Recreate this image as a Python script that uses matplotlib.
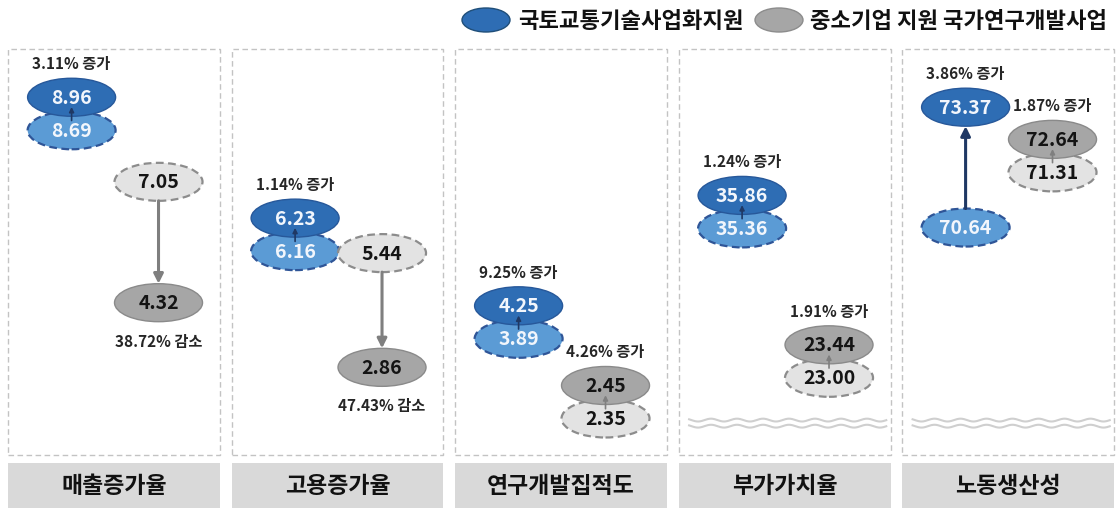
import numpy as np
import matplotlib.pyplot as plt
from matplotlib.patches import Ellipse, Rectangle, FancyArrowPatch
from matplotlib.transforms import IdentityTransform

plt.rcParams['font.family'] = ['Noto Sans CJK KR', 'DejaVu Sans']

categories = ['매출증가율', '고용증가율', '연구개발집적도', '부가가치율', '노동생산성']
series_names = ['국토교통기술사업화지원', '중소기업 지원 국가연구개발사업']

# before -> after values for each indicator
molit_before = [8.69, 6.16, 3.89, 35.36, 70.64]
molit_after = [8.96, 6.23, 4.25, 35.86, 73.37]
sme_before = [7.05, 5.44, 2.35, 23.00, 71.31]
sme_after = [4.32, 2.86, 2.45, 23.44, 72.64]

molit_notes = ['3.11% 증가', '1.14% 증가', '9.25% 증가', '1.24% 증가', '3.86% 증가']
sme_notes = ['38.72% 감소', '47.43% 감소', '4.26% 증가', '1.91% 증가', '1.87% 증가']

# value range shown in each panel (last two use a broken axis)
y_ranges = [(0.88, 10.05), (0.88, 10.05), (0.88, 10.05), (14.28, 48.03), (65.48, 74.69)]
broken = [False, False, False, True, True]

W, H = 1119, 510
PIX = IdentityTransform()
ELL_W, ELL_H = 88, 38
MIN_GAP = 33      # stacked ovals, centre to centre (px)
STACK_BELOW = 70  # closer than this -> stack the pair

styles = [
    dict(x=0.30, after_fc='#2e6db4', after_ec='#27589a', before_fc='#5b9bd5',
         before_ec='#2f5597', text='#f2f6fc', arrow='#1f3864'),
    dict(x=0.71, after_fc='#a6a6a6', after_ec='#8a8a8a', before_fc='#e3e3e3',
         before_ec='#8c8c8c', text='#141414', arrow='#7f7f7f'),
]


def frac_box(x0, y0, x1, y1):
    return [x0 / W, 1 - y1 / H, (x1 - x0) / W, (y1 - y0) / H]


def oval(ax, xy, fc, ec, dashed):
    ax.add_patch(Ellipse(xy, ELL_W, ELL_H, fc=fc, ec=ec,
                         lw=1.6 if dashed else 1.0,
                         ls=(0, (3.5, 2)) if dashed else '-',
                         transform=PIX, clip_on=False, zorder=1))


def draw_pair(ax, before, after, note, st):
    x, y_b = ax.transData.transform((st['x'], before))
    _, y_a = ax.transData.transform((st['x'], after))
    # small changes: stack the two ovals under the "after" one
    if abs(y_a - y_b) < STACK_BELOW:
        if after >= before:
            y_b = y_a - MIN_GAP
        else:
            y_b = y_a + MIN_GAP

    items = [(y_b, before, st['before_fc'], st['before_ec'], True),
             (y_a, after, st['after_fc'], st['after_ec'], False)]
    items.sort(key=lambda t: t[0])
    for y, v, fc, ec, dashed in items:
        oval(ax, (x, y), fc, ec, dashed)
        ax.text(x, y, f'{v:.2f}', transform=PIX, ha='center', va='center',
                fontsize=14, fontweight='bold', color=st['text'], zorder=3)

    gap = abs(y_a - y_b)
    if gap > ELL_H + 10:
        shrink, lw, ms = ELL_H / 2 * 0.72, 2.2, 14
    else:
        shrink, lw, ms = 7, 1.2, 7
    ax.add_patch(FancyArrowPatch((x, y_b), (x, y_a), transform=PIX,
                                 arrowstyle='-|>', mutation_scale=ms,
                                 shrinkA=shrink, shrinkB=shrink, lw=lw,
                                 color=st['arrow'], clip_on=False, zorder=2))

    ty = y_a + 34 if after >= before else y_a - 38
    ax.text(x, ty, note, transform=PIX, ha='center', va='center',
            fontsize=11, fontweight='bold', color='#262626', zorder=3)


fig = plt.figure(figsize=(W / 100, H / 100), dpi=100)

for i, cat in enumerate(categories):
    x0 = 8 + 223.5 * i
    x1 = x0 + 212
    ax = fig.add_axes(frac_box(x0, 50, x1, 456))
    ax.set_xlim(0, 1)
    ax.set_ylim(*y_ranges[i])
    ax.set_axis_off()
    ax.add_patch(Rectangle((0, 0), 1, 1, transform=ax.transAxes, fill=False,
                           ec='#c3c3c3', lw=1, ls=(0, (4, 2.5)), clip_on=False))

    if broken[i]:
        xs = np.linspace(0.05, 0.98, 400)
        for yb in (0.086, 0.071):
            ax.plot(xs, yb + 0.0035 * np.sin(2 * np.pi * xs * 212 / 26),
                    transform=ax.transAxes, color='#cfcfcf', lw=1.5)

    draw_pair(ax, molit_before[i], molit_after[i], molit_notes[i], styles[0])
    draw_pair(ax, sme_before[i], sme_after[i], sme_notes[i], styles[1])

    cax = fig.add_axes(frac_box(x0, 464, x1, 509))
    cax.set_axis_off()
    cax.add_patch(Rectangle((0, 0), 1, 1, transform=cax.transAxes,
                            fc='#d9d9d9', ec='none'))
    cax.text(0.5, 0.5, cat, transform=cax.transAxes, ha='center', va='center',
             fontsize=16.5, fontweight='bold', color='#111111')

# legend
legend_items = [(486, 518, styles[0]['after_fc'], '#1f4e79'),
                (779, 810, styles[1]['after_fc'], '#8c8c8c')]
for (ex, tx, fc, ec), name in zip(legend_items, series_names):
    fig.add_artist(Ellipse((ex, H - 21), 48, 24, fc=fc, ec=ec, lw=1, transform=PIX))
    fig.text(tx / W, 1 - 21 / H, name, ha='left', va='center', fontsize=16,
             fontweight='bold', color='#111111')

fig.savefig('out.png', dpi=100)
